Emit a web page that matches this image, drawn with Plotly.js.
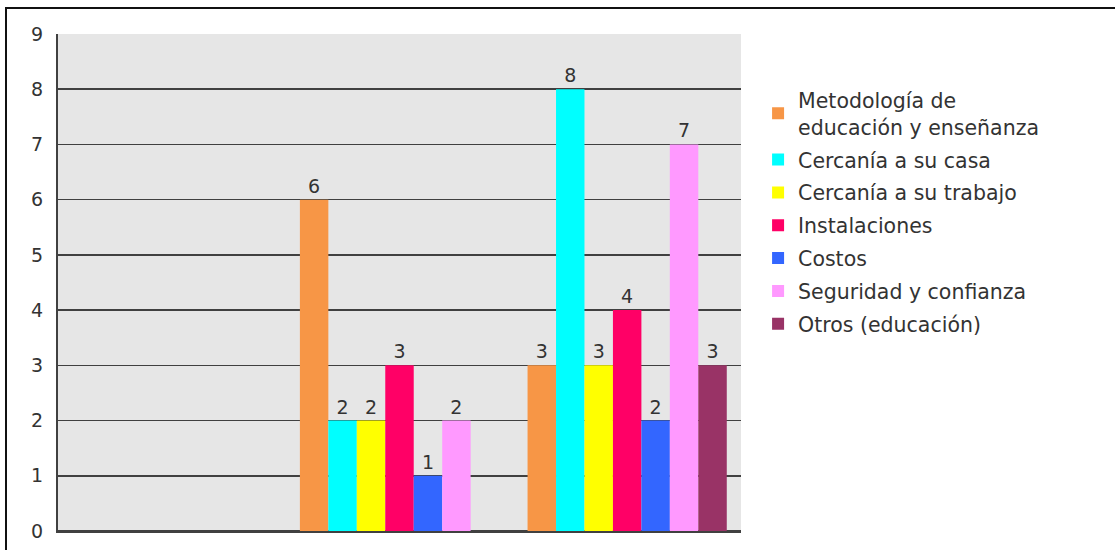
<!DOCTYPE html>
<html>
<head>
<meta charset="utf-8">
<script src="https://cdn.plot.ly/plotly-3.0.1.min.js"></script>
<style>
  html, body { margin: 0; padding: 0; background: #fff; }
  #wrap { position: relative; width: 1115px; height: 550px; overflow: hidden; }
  #chart { position: absolute; left: 0; top: 0; width: 1115px; height: 550px; }
  #frame { position: absolute; left: 5px; top: 7px; width: 1200px; height: 700px;
           border-top: 2px solid #111; border-left: 2px solid #111; pointer-events: none; }
</style>
</head>
<body>
<div id="wrap">
  <div id="chart"></div>
  <div id="frame"></div>
</div>
<script>
// Categories (x-axis labels are cut off in the reference)
const categories = ["Grupo 1", "Grupo 2", "Grupo 3"];

// Series names
const seriesNames = [
  "Metodología de<br>educación y enseñanza",
  "Cercanía a su casa",
  "Cercanía a su trabajo",
  "Instalaciones",
  "Costos",
  "Seguridad y confianza",
  "Otros (educación)"
];

// Series values per category
const metodologia = [null, 6, 3];
const cercaniaCasa = [null, 2, 8];
const cercaniaTrabajo = [null, 2, 3];
const instalaciones = [null, 3, 4];
const costos = [null, 1, 2];
const seguridad = [null, 2, 7];
const otros = [null, null, 3];

// Y tick values
const yTicks = [0, 1, 2, 3, 4, 5, 6, 7, 8, 9];

const seriesValues = [metodologia, cercaniaCasa, cercaniaTrabajo, instalaciones, costos, seguridad, otros];
const seriesColors = ["#F79646", "#00FFFF", "#FFFF00", "#FF0066", "#3366FF", "#FF99FF", "#993366"];

const FONT = "DejaVu Sans, Open Sans, sans-serif";

const traces = seriesValues.map((vals, i) => ({
  type: "bar",
  name: seriesNames[i],
  x: categories,
  y: vals,
  marker: { color: seriesColors[i], line: { width: 0 } },
  text: vals.map(v => v == null ? "" : String(v)),
  textposition: "outside",
  textfont: { family: FONT, size: 19, color: "#333333" },
  cliponaxis: false,
  legendgroup: "g" + i,
  hoverinfo: "name+y"
}));

const layout = {
  width: 1115,
  height: 550,
  margin: { l: 58, r: 374, t: 34, b: 19, pad: 0 },
  paper_bgcolor: "rgba(0,0,0,0)",
  plot_bgcolor: "#e6e6e6",
  barmode: "group",
  bargap: 0.125,
  bargroupgap: 0,
  showlegend: true,
  legend: {
    x: 1.025, xanchor: "left",
    y: 0.907, yanchor: "top",
    font: { family: FONT, size: 20.5, color: "#333333" },
    traceorder: "grouped",
    tracegroupgap: 3.2,
    bgcolor: "rgba(0,0,0,0)",
    borderwidth: 0
  },
  xaxis: {
    type: "category",
    showticklabels: false,
    showgrid: false,
    showline: true,
    linecolor: "#404040",
    linewidth: 2,
    ticks: "",
    fixedrange: true
  },
  yaxis: {
    range: [0, 9],
    tickvals: yTicks,
    ticktext: yTicks.map(String),
    showgrid: true,
    gridcolor: "#404040",
    gridwidth: 1.5,
    zeroline: true,
    zerolinecolor: "#404040",
    zerolinewidth: 2,
    showline: true,
    linecolor: "#404040",
    linewidth: 2,
    ticks: "",
    ticklabelstandoff: 9,
    tickfont: { family: FONT, size: 19, color: "#333333" },
    fixedrange: true
  }
};

Plotly.newPlot("chart", traces, layout, { displayModeBar: false, staticPlot: true });
</script>
</body>
</html>
